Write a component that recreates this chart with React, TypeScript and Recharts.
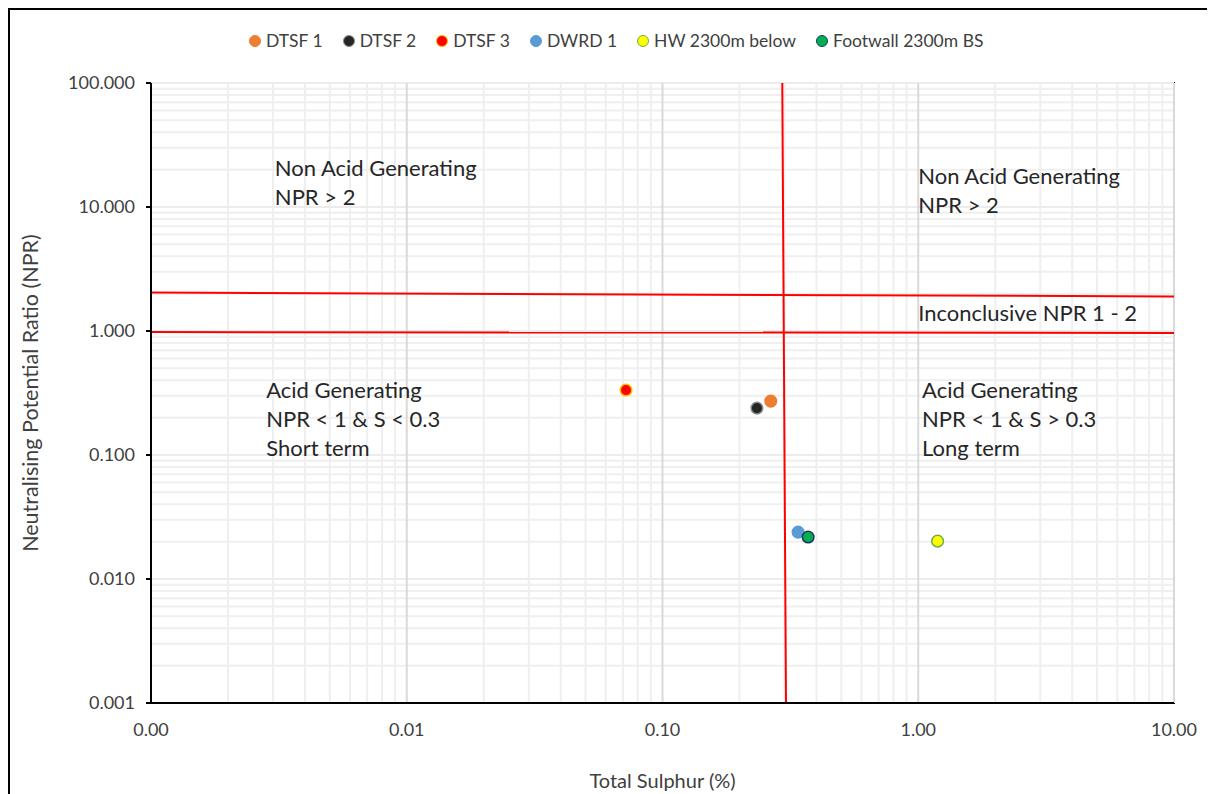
import React from "react";
import {
  ScatterChart,
  Scatter,
  XAxis,
  YAxis,
  ReferenceLine,
  ReferenceDot,
  ReferenceArea,
} from "recharts";

// values
const seriesNames = ["DTSF 1", "DTSF 2", "DTSF 3", "DWRD 1", "HW 2300m below", "Footwall 2300m BS"];
const totalSulphur = [0.265, 0.234, 0.072, 0.339, 1.19, 0.371];
const nprValues = [0.272, 0.239, 0.334, 0.0239, 0.0202, 0.0218];

const xTicks = [0.001, 0.01, 0.1, 1, 10];
const yTicks = [0.001, 0.01, 0.1, 1, 10, 100];
const minorSteps = [2, 3, 4, 5, 6, 7, 8, 9];

// classification boundaries (hand drawn in the original, slightly tilted)
const sulphurLimit = [
  { x: 0.294, y: 100 },
  { x: 0.304, y: 0.001 },
];
const upperNprLimit = [
  { x: 0.001, y: 2.04 },
  { x: 10, y: 1.9 },
];
const lowerNprLimit = [
  { x: 0.001, y: 0.98 },
  { x: 10, y: 0.965 },
];

const zoneLabels = [
  { x: 0.00305, y: 21.0, lines: ["Non Acid Generating", "NPR > 2"] },
  { x: 1.0, y: 17.8, lines: ["Non Acid Generating", "NPR > 2"] },
  { x: 1.0, y: 1.42, lines: ["Inconclusive NPR 1 - 2"] },
  { x: 0.00282, y: 0.34, lines: ["Acid Generating", "NPR < 1 & S < 0.3", "Short term"] },
  { x: 1.035, y: 0.34, lines: ["Acid Generating", "NPR < 1 & S > 0.3", "Long term"] },
];

const markerFill = ["#ED7D31", "#262626", "#FF0000", "#5B9BD5", "#FFFF00", "#00B050"];
const markerStroke = ["#ED7D31", "#8a8a8a", "#FFC000", "#5B9BD5", "#70AD47", "#1F3864"];

const FONT = "Lato, 'Open Sans', sans-serif";
const TEXT = "#404040";

const minorGrid = (ticks: number[]) =>
  ticks.slice(0, -1).flatMap((d) => minorSteps.map((m) => d * m));

export default function App() {
  const xMinor = minorGrid(xTicks);
  const yMinor = minorGrid(yTicks);

  return (
    <div
      style={{
        position: "relative",
        width: 1199,
        height: 786,
        borderTop: "2px solid #000",
        borderLeft: "2px solid #000",
        overflow: "hidden",
        fontFamily: FONT,
        boxSizing: "border-box",
      }}
    >
      <style>{"html, body { overflow: hidden; }"}</style>
      <div
        style={{
          position: "absolute",
          top: 20,
          left: 239,
          display: "flex",
          alignItems: "center",
          fontSize: 17.5,
          color: TEXT,
          whiteSpace: "nowrap",
        }}
      >
        {seriesNames.map((name, i) => (
          <div key={name} style={{ display: "flex", alignItems: "center", marginRight: 20 }}>
            <span
              style={{
                display: "inline-block",
                width: 10,
                height: 10,
                borderRadius: "50%",
                background: markerFill[i],
                border: `1.5px solid ${markerStroke[i]}`,
                marginRight: 5,
              }}
            />
            <span>{name}</span>
          </div>
        ))}
      </div>

      <ScatterChart
        width={1197}
        height={784}
        margin={{ top: 73, right: 33, left: 10, bottom: 0 }}
      >
        {xMinor.map((v) => (
          <ReferenceLine key={"xm" + v} x={v} stroke="#efefef" strokeWidth={2} />
        ))}
        {yMinor.map((v) => (
          <ReferenceLine key={"ym" + v} y={v} stroke="#efefef" strokeWidth={2} />
        ))}
        {yTicks.map((v) => (
          <ReferenceLine key={"yM" + v} y={v} stroke="#ececec" strokeWidth={2} />
        ))}
        {xTicks.map((v) => (
          <ReferenceLine key={"xM" + v} x={v} stroke="#d9d9d9" strokeWidth={2} />
        ))}

        <XAxis
          type="number"
          dataKey="x"
          scale="log"
          domain={[0.001, 10]}
          ticks={xTicks}
          allowDataOverflow
          height={91}
          tickLine={false}
          tickMargin={14}
          axisLine={{ stroke: "#000", strokeWidth: 2 }}
          tick={{ fill: TEXT, fontSize: 18, fontFamily: FONT }}
          tickFormatter={(v: number) => v.toFixed(2)}
          label={{
            content: (p: any) => (
              <text
                x={p.viewBox.x + p.viewBox.width / 2}
                y={p.viewBox.y + 77}
                textAnchor="middle"
                dominantBaseline="central"
                fill={TEXT}
                fontSize={20}
                fontFamily={FONT}
              >
                Total Sulphur (%)
              </text>
            ),
          }}
        />
        <YAxis
          type="number"
          dataKey="y"
          scale="log"
          domain={[0.001, 100]}
          ticks={yTicks}
          allowDataOverflow
          width={131}
          tickSize={5}
          tickMargin={11}
          tickLine={{ stroke: "#000", strokeWidth: 2 }}
          axisLine={{ stroke: "#000", strokeWidth: 2 }}
          tick={{ fill: TEXT, fontSize: 18, fontFamily: FONT }}
          tickFormatter={(v: number) => v.toFixed(3)}
          label={{
            content: (p: any) => {
              const cx = 20;
              const cy = p.viewBox.y + p.viewBox.height / 2;
              return (
                <text
                  x={cx}
                  y={cy}
                  transform={`rotate(-90, ${cx}, ${cy})`}
                  textAnchor="middle"
                  dominantBaseline="central"
                  fill={TEXT}
                  fontSize={21.5}
                  fontFamily={FONT}
                >
                  Neutralising Potential Ratio (NPR)
                </text>
              );
            },
          }}
        />

        <ReferenceLine segment={sulphurLimit} stroke="#FF0000" strokeWidth={2} ifOverflow="visible" />
        <ReferenceLine segment={upperNprLimit} stroke="#FF0000" strokeWidth={2} ifOverflow="visible" />
        <ReferenceLine segment={lowerNprLimit} stroke="#FF0000" strokeWidth={2} ifOverflow="visible" />

        {zoneLabels.map((z, i) => (
          <ReferenceDot
            key={"z" + i}
            x={z.x}
            y={z.y}
            r={0}
            ifOverflow="visible"
            shape={(p: any) => (
              <text fill="#262626" fontSize={22} fontFamily={FONT}>
                {z.lines.map((line, j) => (
                  <tspan key={j} x={p.cx} y={p.cy + j * 29} dominantBaseline="central">
                    {line}
                  </tspan>
                ))}
              </text>
            )}
          />
        ))}

        {seriesNames.map((name, i) => (
          <Scatter
            key={name}
            name={name}
            data={[{ x: totalSulphur[i], y: nprValues[i] }]}
            isAnimationActive={false}
            shape={(p: any) => (
              <circle
                cx={p.cx}
                cy={p.cy}
                r={5.8}
                fill={markerFill[i]}
                stroke={markerStroke[i]}
                strokeWidth={1.5}
              />
            )}
          />
        ))}

        <ReferenceArea
          x1={0.001}
          x2={10}
          y1={0.001}
          y2={100}
          fill="none"
          stroke="#000"
          strokeWidth={2}
          ifOverflow="visible"
        />
      </ScatterChart>
    </div>
  );
}
